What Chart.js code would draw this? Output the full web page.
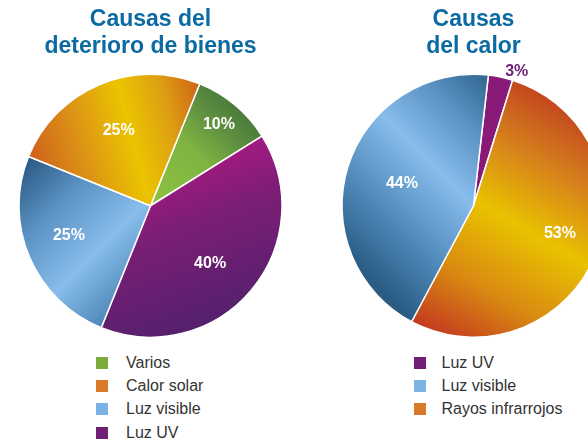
<!DOCTYPE html>
<html>
<head>
<meta charset="utf-8">
<script src="https://cdn.jsdelivr.net/npm/chart.js@4.4.1/dist/chart.umd.min.js"></script>
<style>
  html, body { margin: 0; padding: 0; background: #fff; }
  #page { position: relative; width: 588px; height: 440px; overflow: hidden; font-family: "Liberation Sans", Arial, sans-serif; }
  canvas { position: absolute; top: 0; }
  #leftChart { left: 0; }
  #rightChart { left: 323px; }
  .legend { position: absolute; }
  .legend .row { position: absolute; left: 0; display: flex; align-items: center; white-space: nowrap; font-size: 16px; line-height: 18px; color: #333; }
  .legend .box { width: 12px; height: 12px; }
</style>
</head>
<body>
<div id="page">
  <canvas id="leftChart" width="301" height="338"></canvas>
  <canvas id="rightChart" width="301" height="338"></canvas>
  <div class="legend" id="leftLegend" style="left:96px; top:354px;"></div>
  <div class="legend" id="rightLegend" style="left:414px; top:354px;"></div>
</div>
<script>
// Left pie: causes of deterioration (clockwise from the top)
const leftTitle = ["Causas del", "deterioro de bienes"];
const leftLabels = ["Varios", "Luz UV", "Luz visible", "Calor solar"];
const leftValues = [10, 40, 25, 25];
const leftLegendOrder = ["Varios", "Calor solar", "Luz visible", "Luz UV"];

// Right pie: causes of heat
const rightTitle = ["Causas", "del calor"];
const rightLabels = ["Luz UV", "Rayos infrarrojos", "Luz visible"];
const rightValues = [3, 53, 44];
const rightLegendOrder = ["Luz UV", "Luz visible", "Rayos infrarrojos"];

// flat colours used by the legends
const legendColors = {
  "Varios": "#7aaa3b",
  "Calor solar": "#d97b29",
  "Luz visible": "#7ab3e3",
  "Luz UV": "#702075",
  "Rayos infrarrojos": "#d8792a"
};

const FONT = '"Liberation Sans", Arial, sans-serif';
const titleColor = "#0b6aa2";

// gradient per slice: direction (deg, clockwise from top) and colour stops along the diameter
const leftGradients = [
  { angle: 45, stops: [[0.5, "#8dc243"], [0.76, "#80b442"], [0.9, "#5e8f40"], [1, "#4a7b3b"]] },
  { angle: 160, stops: [[0.4, "#a21a7f"], [0.6, "#7d1e76"], [1, "#54206c"]] },
  { angle: 315, stops: [[0.25, "#3d78a6"], [0.52, "#88bdec"], [0.75, "#5a92c3"], [0.95, "#2b5a84"]] },
  { angle: 75, stops: [[0.08, "#cc5a1c"], [0.3, "#dc9216"], [0.5, "#ebc400"], [0.65, "#dea012"], [0.82, "#cc5c1a"]] }
];
const rightGradients = [
  { angle: 100, stops: [[0.5, "#8a1a78"], [1, "#681e6c"]] },
  { angle: 210, stops: [[0, "#c2461f"], [0.22, "#d57e1c"], [0.48, "#e9c200"], [0.75, "#d98a12"], [1, "#c3381f"]] },
  { angle: 225, stops: [[0.05, "#23567d"], [0.3, "#5b93c4"], [0.5, "#88bdec"], [0.78, "#4b84b4"], [0.97, "#2a5c84"]] }
];

function sliceGradient(specs) {
  return function (context) {
    const chart = context.chart;
    const area = chart.chartArea;
    const spec = specs[context.dataIndex];
    if (!area) return spec.stops[0][1];
    const cx = (area.left + area.right) / 2;
    const cy = (area.top + area.bottom) / 2;
    const r = Math.min(area.right - area.left, area.bottom - area.top) / 2;
    const a = spec.angle * Math.PI / 180;
    const ux = Math.sin(a), uy = -Math.cos(a);
    const g = chart.ctx.createLinearGradient(cx - ux * r, cy - uy * r, cx + ux * r, cy + uy * r);
    spec.stops.forEach(([t, c]) => g.addColorStop(t, c));
    return g;
  };
}

// percentage labels placed along each slice's bisector
function percentLabels(radii, offsets, colors) {
  return {
    id: "percentLabels",
    afterDatasetsDraw(chart) {
      const ctx = chart.ctx;
      const values = chart.data.datasets[0].data;
      ctx.save();
      ctx.font = "bold 16px " + FONT;
      ctx.textAlign = "center";
      ctx.textBaseline = "middle";
      chart.getDatasetMeta(0).data.forEach((arc, i) => {
        const p = arc.getProps(["x", "y", "startAngle", "endAngle", "outerRadius"], true);
        const mid = (p.startAngle + p.endAngle) / 2 + offsets[i] * Math.PI / 180;
        const rr = p.outerRadius * radii[i];
        ctx.fillStyle = colors[i];
        ctx.fillText(values[i] + "%", p.x + Math.cos(mid) * rr, p.y + Math.sin(mid) * rr);
      });
      ctx.restore();
    }
  };
}

function makePie(canvasId, title, labels, values, gradients, rotation, labelPlugin) {
  return new Chart(document.getElementById(canvasId), {
    type: "pie",
    data: {
      labels: labels,
      datasets: [{
        data: values,
        backgroundColor: sliceGradient(gradients),
        borderColor: "#ffffff",
        borderWidth: 1.5
      }]
    },
    options: {
      responsive: false,
      animation: false,
      events: [],
      rotation: rotation,
      layout: { padding: 0 },
      plugins: {
        legend: { display: false },
        tooltip: { enabled: false },
        title: {
          display: true,
          text: title,
          color: titleColor,
          font: { family: FONT, size: 23, weight: "bold", lineHeight: 27 / 23 },
          padding: { top: 6.5, bottom: 13 }
        }
      }
    },
    plugins: [labelPlugin]
  });
}

makePie("leftChart", leftTitle, leftLabels, leftValues, leftGradients, 22,
  percentLabels([0.81, 0.63, 0.66, 0.62], [0, 4, 3, 0], ["#fff", "#fff", "#fff", "#fff"]));
makePie("rightChart", rightTitle, rightLabels, rightValues, rightGradients, 6.5,
  percentLabels([1.07, 0.69, 0.57], [6, -5, 0], ["#6e2276", "#fff", "#fff"]));

// legends (vertical lists under each pie)
function buildLegend(elId, order, gap) {
  const el = document.getElementById(elId);
  order.forEach((name, i) => {
    const row = document.createElement("div");
    row.className = "row";
    row.style.top = (i * 23.2) + "px";
    const box = document.createElement("span");
    box.className = "box";
    box.style.background = legendColors[name];
    box.style.marginRight = gap + "px";
    const txt = document.createElement("span");
    txt.textContent = name;
    row.appendChild(box);
    row.appendChild(txt);
    el.appendChild(row);
  });
}
buildLegend("leftLegend", leftLegendOrder, 18);
buildLegend("rightLegend", rightLegendOrder, 15.5);
</script>
</body>
</html>
